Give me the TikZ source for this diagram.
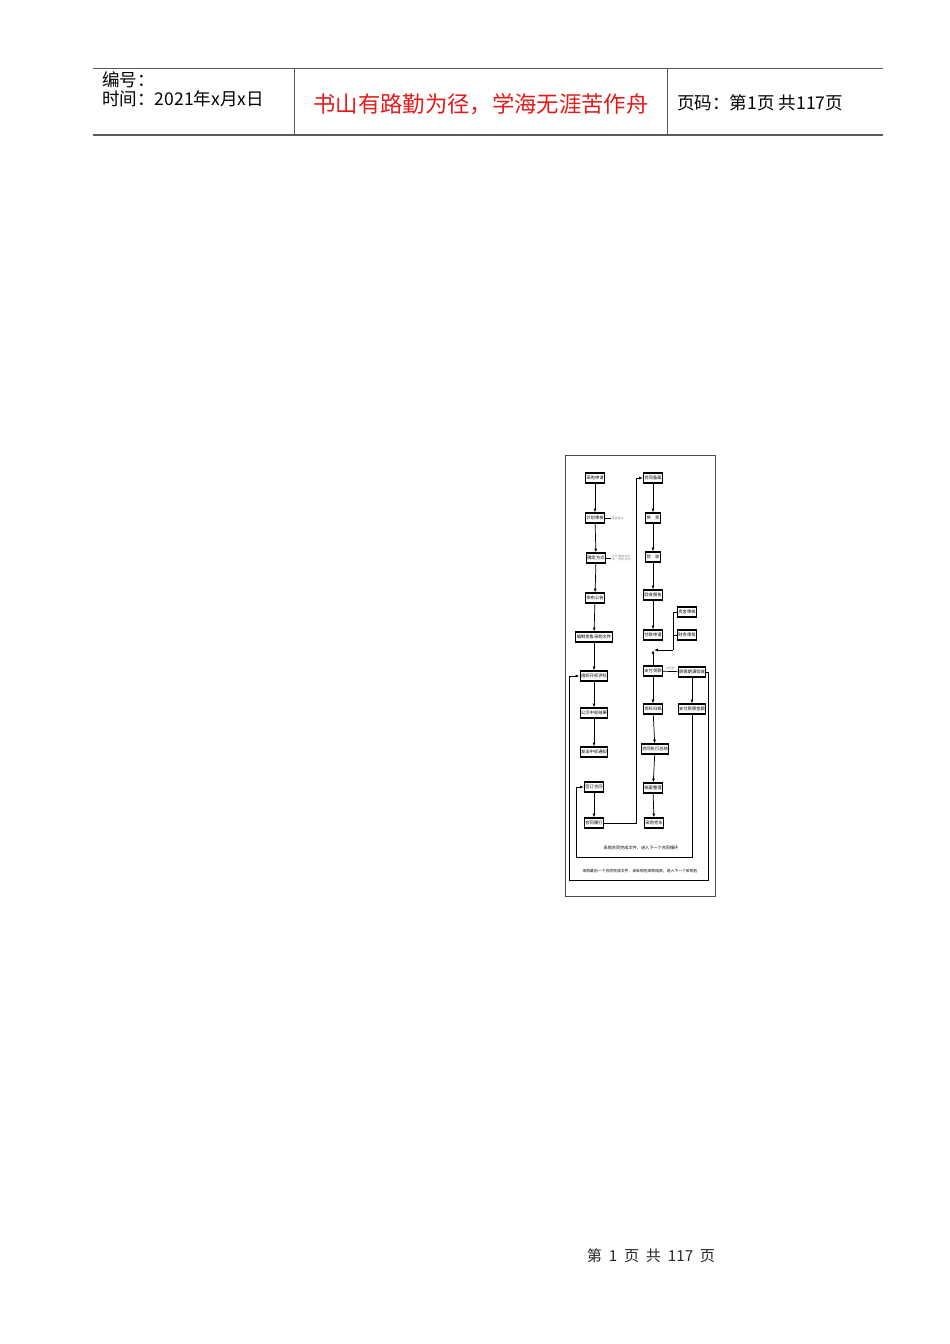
\documentclass[tikz,border=0pt]{standalone}
\usepackage{fontspec}
\setmainfont{Liberation Sans}
\newfontfamily\cjk{Noto Sans CJK SC}
\usetikzlibrary{arrows.meta}
\tikzset{
	box/.style={draw=black, line width=0.7pt, inner sep=0.6pt, minimum height=6.3pt, font=\cjk\fontsize{2.7}{3}\selectfont},
	arr/.style={-{Latex[length=2.4pt,width=1.8pt]}, line width=0.45pt},
	link/.style={line width=0.45pt},
	note/.style={text=black!45, inner sep=0.4pt, font=\cjk\fontsize{1.8}{2.1}\selectfont, align=left},
	looptext/.style={inner sep=0pt, font=\cjk\fontsize{2.6}{3}\selectfont},
	rule/.style={draw=black!65, line width=0.6pt},
	head/.style={inner sep=0pt, font=\cjk\fontsize{11}{13}\selectfont},
}
\begin{document}
\begin{tikzpicture}[x=0.6266pt, y=-0.6266pt]
	\useasboundingbox (0,0) rectangle (950,1344);
	% header table
	\draw[rule] (93,68) -- (883,68);
	\draw[rule, line width=1.1pt] (93,135) -- (883,135);
	\draw[rule] (294,68) -- (294,135);
	\draw[rule] (667,68) -- (667,135);
	\node[head, anchor=west] (number) at (102,80) {编号：};
	\node[head, anchor=west] (date) at (102,99) {时间：2021年x月x日};
	\node[head, text={rgb,255:red,230;green,25;blue,25}, font=\cjk\fontsize{14}{16}\selectfont] (motto) at (481,104) {书山有路勤为径，学海无涯苦作舟};
	\node[head, anchor=west] (pages) at (677,103) {页码：第1页 共117页};
	% flow chart frame
	\draw[draw=black!70, line width=0.6pt] (565,455) rectangle (715,896);
	% left column
	\node[box] (l1) at (595,478) {采购申请};
	\node[box] (l2) at (595,518) {计划审核};
	\node[box] (l3) at (596,558) {确定方式};
	\node[box] (l4) at (595,598) {发布公告};
	\node[box] (l5) at (594,637) {编制发售采购文件};
	\node[box] (l6) at (594,676) {组织开标评标};
	\node[box] (l7) at (594,713) {公示中标结果};
	\node[box] (l8) at (594,752) {发出中标通知};
	\node[box] (l9) at (594,787) {签订合同};
	\node[box] (l10) at (594,823) {合同履行};
	\foreach \a/\b in {l1/l2,l2/l3,l3/l4,l4/l5,l5/l6,l6/l7,l7/l8,l9/l10}
		\draw[arr] (\a) -- (\b);
	\node[note, anchor=west] (n2) at (611,518) {审批通过};
	\node[note, anchor=west] (n3) at (611,558) {公开 邀请 询价\\单一 竞争 谈判};
	\draw[link] (l2) -- (n2);
	\draw[link] (l3) -- (n3);
	% right column
	\node[box] (r1) at (653,478) {合同备案};
	\node[box] (r2) at (653,518) {供\quad 货};
	\node[box] (r3) at (653,557) {验\quad 收};
	\node[box] (r4) at (653,595) {验收报告};
	\node[box] (r5) at (653,635) {付款申请};
	\node[box] (s1) at (687,612) {资金审核};
	\node[box] (s2) at (687,635) {财务审批};
	\node[box] (r6) at (653,671) {支付货款};
	\node[box] (s3) at (692,672) {质保期满验收};
	\node[box] (s4) at (692,709) {支付质保金额};
	\node[box] (r7) at (653,709) {资料归档};
	\node[box] (r8) at (655,749) {合同执行总结};
	\node[box] (r9) at (653,788) {档案整理};
	\node[box] (r10) at (654,823) {采购完毕};
	\foreach \a/\b in {r1/r2,r2/r3,r3/r4,r4/r5,r6/r7,r7/r8,r8/r9,r9/r10}
		\draw[arr] (\a) -- (\b);
	% from left column to right column
	\coordinate (up) at (636,823);
	\draw[arr] (l10.east) -- (up) |- (r1.west);
	% approval branch
	\coordinate (jn) at (654,650);
	\coordinate (br) at (673,650);
	\draw[link] (s1.west) -| (br);
	\draw[link] (s2.west) -- (s2.west -| br);
	\draw[arr] (br) -- (jn);
	\draw[arr] (r6.north) -- (r6.north |- jn);
	\draw[link] (r6) -- node[note, above=0.5pt] (n6) {合同款} (s3);
	\draw[arr] (s3) -- (s4);
	% loops back
	\coordinate (oR) at (708,880);
	\coordinate (oL) at (569,880);
	\draw[arr] (s3.east) -| (oR) -- (oL) |- (l6.west);
	\coordinate (iL) at (576,857);
	\draw[arr] (s4.south) |- (iL) |- (l9.west);
	\node[looptext] (t1) at (641,848) {采购合同完成文件，进入下一个合同循环};
	\node[looptext, font=\cjk\fontsize{2.4}{3}\selectfont] (t2) at (640,871) {采购最后一个合同完成文件，该采购包采购结束，进入下一个采购包};
	% footer
	\node[inner sep=0pt, text=black!85, font=\cjk\fontsize{9.5}{11}\selectfont] (foot) at (651,1256) {第\ \ 1\ \ 页\ \ 共\ \ 117\ \ 页};
\end{tikzpicture}
\end{document}
